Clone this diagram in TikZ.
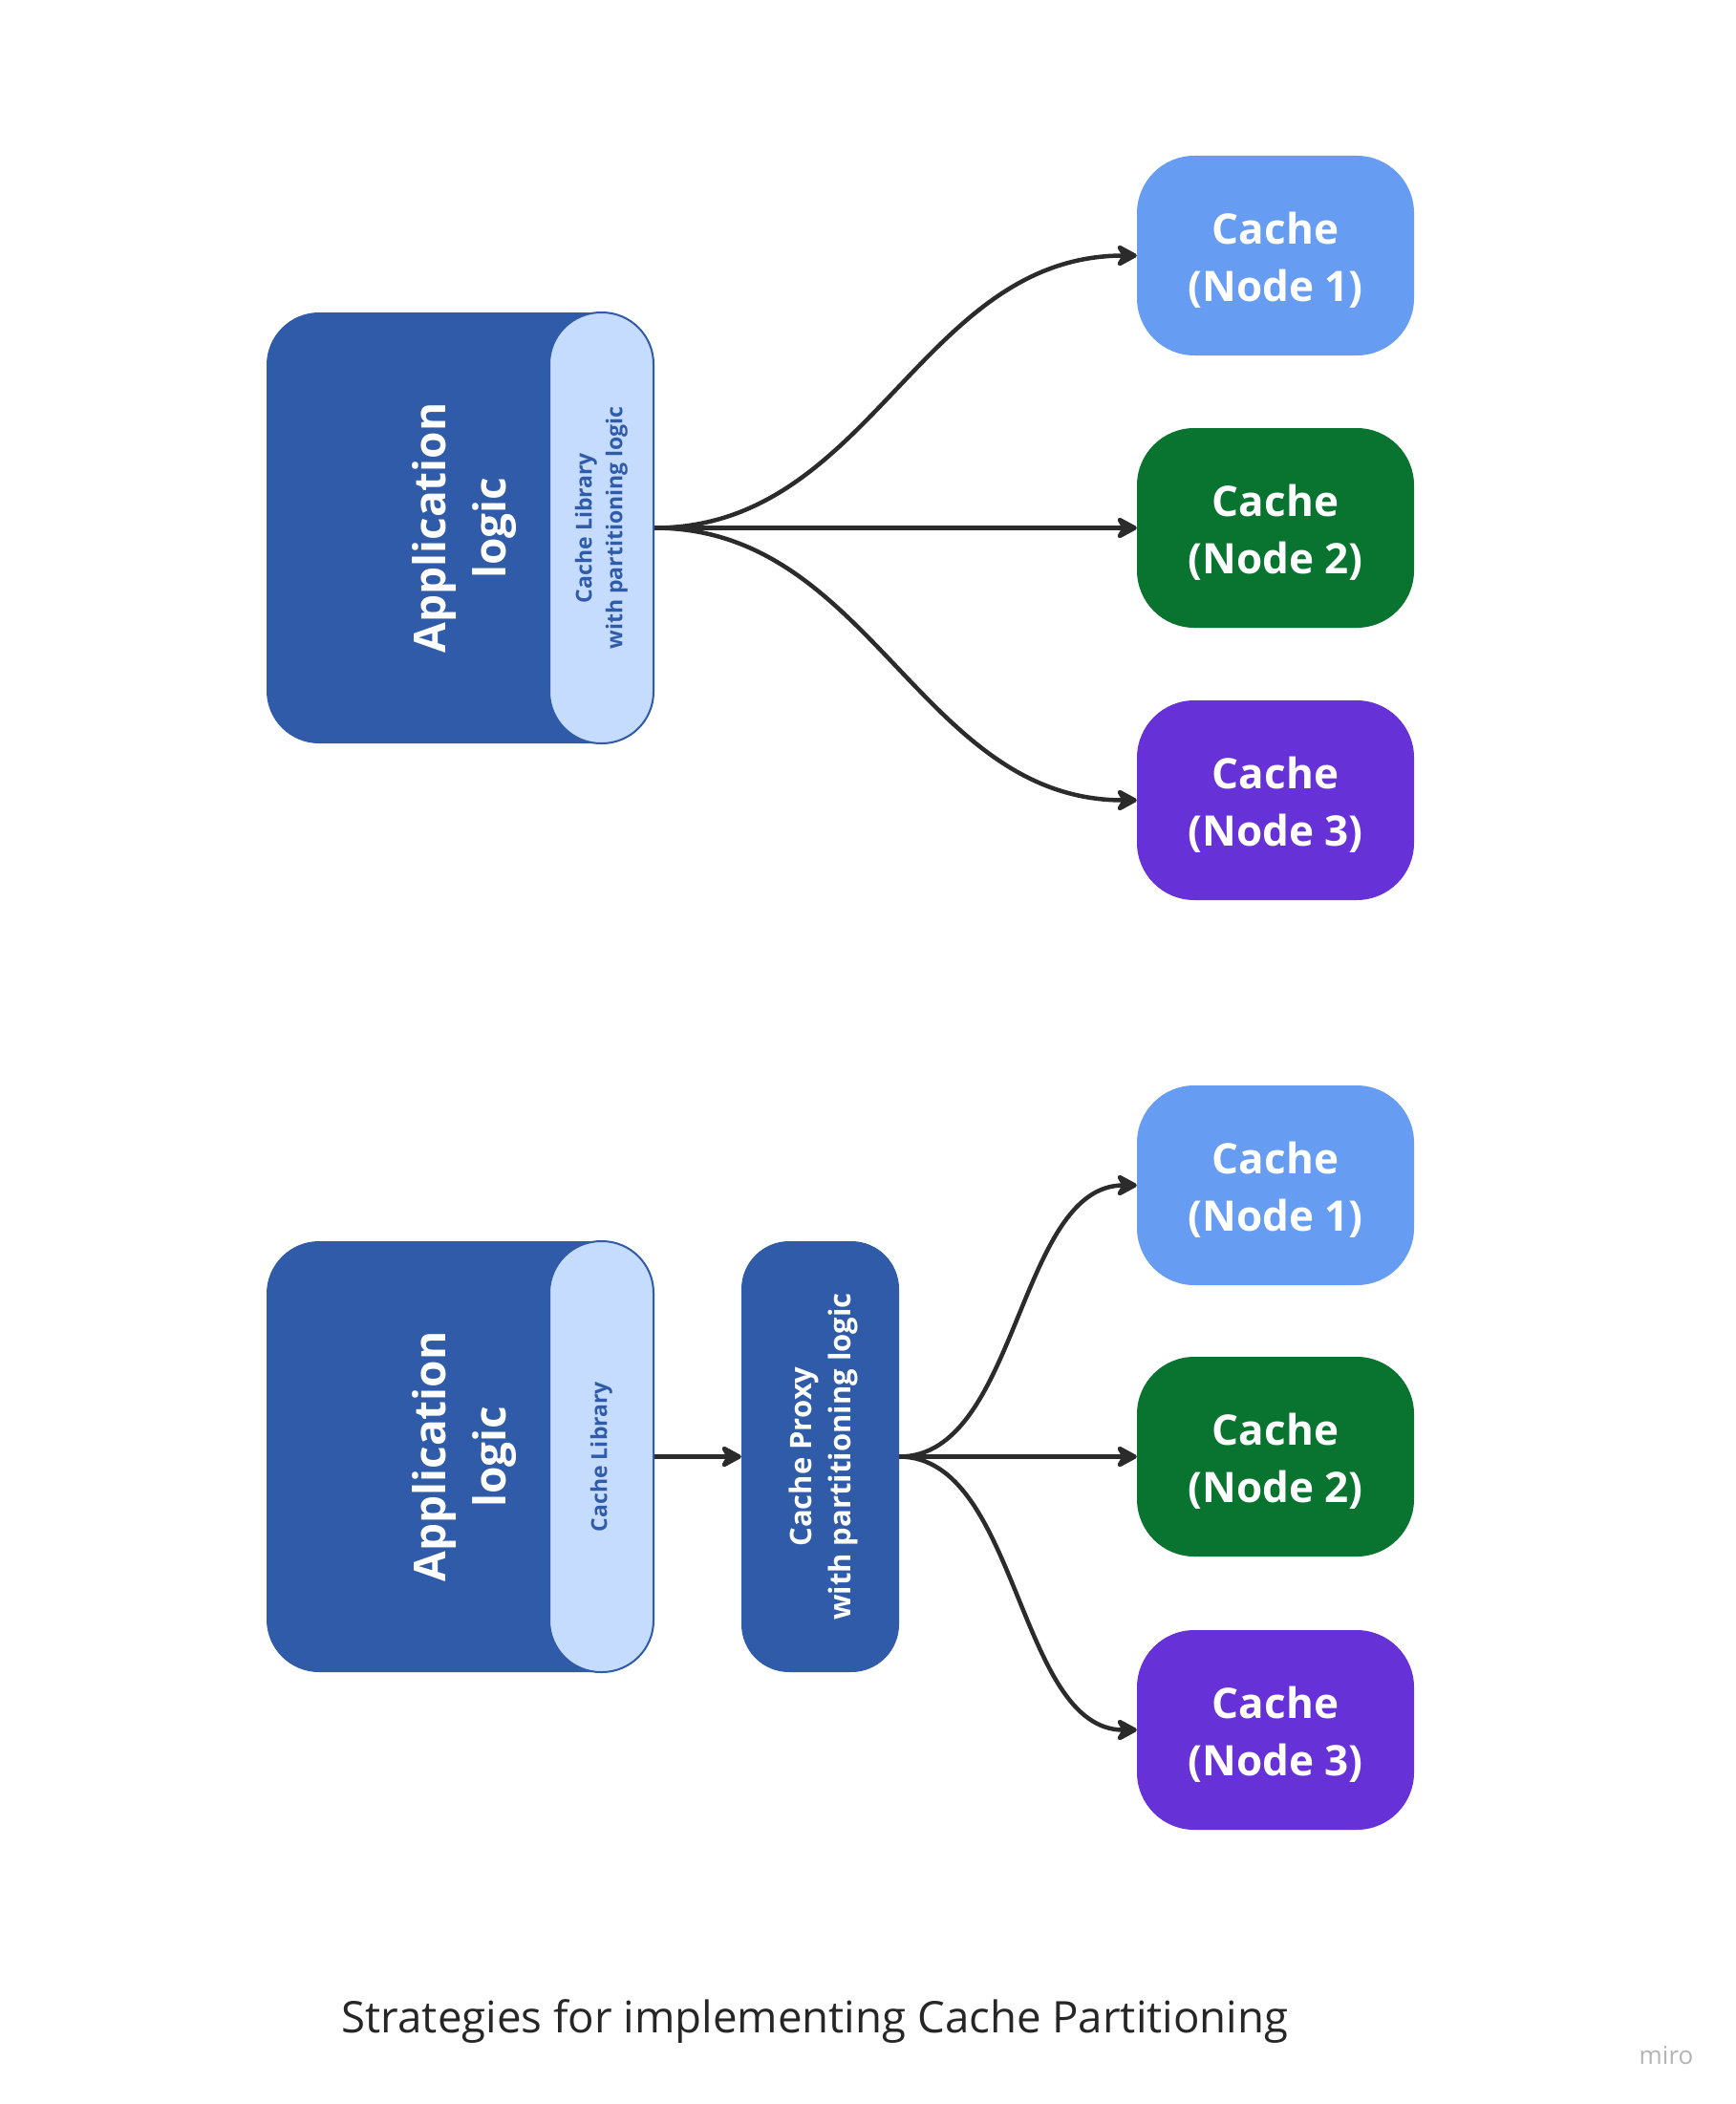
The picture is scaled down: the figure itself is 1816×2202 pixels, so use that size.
\documentclass[tikz,border=0pt]{standalone}
\usepackage{fontspec}
\setmainfont{Open Sans}
\usetikzlibrary{arrows.meta}
\definecolor{appblue}{HTML}{2F5BA8}
\definecolor{libblue}{HTML}{C6DCFF}
\definecolor{nodeA}{HTML}{669DF2}
\definecolor{nodeB}{HTML}{087430}
\definecolor{nodeC}{HTML}{6631D7}
\definecolor{ink}{HTML}{2B2B2B}
\definecolor{titleink}{HTML}{262626}
\definecolor{wm}{HTML}{B4B4B4}
\newcommand{\cachelabel}[1]{\rule{0pt}{42pt}Cache\\(Node #1)}
\begin{document}
\begin{tikzpicture}[x=1pt,y=-1pt,
  appbox/.style={fill=appblue, rounded corners=55pt, minimum width=405pt, minimum height=451pt, inner sep=0pt},
  libbox/.style={fill=libblue, draw=appblue, line width=2pt, rounded corners=54pt, minimum width=109pt, minimum height=451pt, inner sep=0pt},
  proxybox/.style={fill=appblue, rounded corners=50pt, minimum width=165pt, minimum height=451pt, inner sep=0pt},
  apptext/.style={rotate=90, text=white, align=center, font=\bfseries\fontsize{46}{63}\selectfont},
  libtext/.style={rotate=90, text=appblue, align=center, font=\bfseries\fontsize{23}{32}\selectfont},
  proxytext/.style={rotate=90, text=white, align=center, font=\bfseries\fontsize{31}{41}\selectfont},
  cachebox/.style={rounded corners=60pt, minimum width=290pt, minimum height=209pt, inner sep=0pt, text=white, align=center, font=\bfseries\fontsize{44}{60}\selectfont},
  conn/.style={draw=ink, line width=4.5pt, -{Stealth[length=26pt, width=28pt, inset=8pt, round]}}
]
\fill[white] (0,0) rectangle (1816,2202);
\useasboundingbox (0,0) rectangle (1816,2202);

% ---- top strategy ----
\node[appbox] (app1) at (481.5,552.5) {};
\node[libbox] (lib1) at (629.5,552.5) {};
\node[apptext] (app1t) at (486,552.5) {Application\\logic};
\node[libtext] (lib1t) at (629.5,552.5) {Cache Library\\with partitioning logic};

\node[cachebox, fill=nodeA] (c1) at (1335,267.5) {\cachelabel{1}};
\node[cachebox, fill=nodeB] (c2) at (1335,552.5) {\cachelabel{2}};
\node[cachebox, fill=nodeC] (c3) at (1335,837.5) {\cachelabel{3}};

\draw[conn] (lib1.east) to[out=0,in=180] (c1.west);
\draw[conn] (lib1.east) -- (c2.west);
\draw[conn] (lib1.east) to[out=0,in=180] (c3.west);

% ---- bottom strategy ----
\node[appbox] (app2) at (481.5,1524.5) {};
\node[libbox] (lib2) at (629.5,1524.5) {};
\node[apptext] (app2t) at (486,1524.5) {Application\\logic};
\node[libtext] (lib2t) at (629.5,1524.5) {Cache Library};

\node[proxybox] (proxy) at (858.5,1524.5) {};
\node[proxytext] (proxyt) at (862,1524.5) {Cache Proxy\\with partitioning logic};

\node[cachebox, fill=nodeA] (d1) at (1335,1240.5) {\cachelabel{1}};
\node[cachebox, fill=nodeB] (d2) at (1335,1524.5) {\cachelabel{2}};
\node[cachebox, fill=nodeC] (d3) at (1335,1810.5) {\cachelabel{3}};

\draw[conn] (lib2.east) -- (proxy.west);
\draw[conn] (proxy.east) .. controls +(125,0) and +(-125,0) .. (d1.west);
\draw[conn] (proxy.east) -- (d2.west);
\draw[conn] (proxy.east) .. controls +(125,0) and +(-125,0) .. (d3.west);

% ---- caption ----
\node[anchor=base, text=titleink, font=\fontsize{45.6}{54}\selectfont] (title) at (853,2127) {Strategies for implementing Cache Partitioning};
\node[anchor=base, text=wm, font=\fontsize{26}{30}\selectfont] (miro) at (1744,2160) {miro};
\end{tikzpicture}
\end{document}
